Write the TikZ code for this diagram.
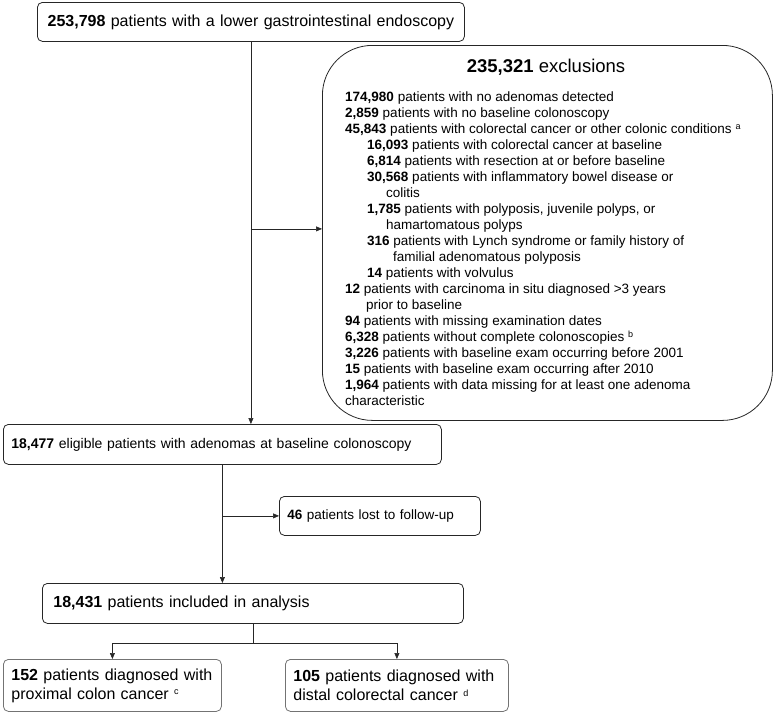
\documentclass[tikz,border=0pt]{standalone}
\usepackage{fontspec}
\setmainfont{Liberation Sans}
\usetikzlibrary{arrows.meta}

\newcommand{\fnmark}[1]{\raisebox{4.5pt}{\fontsize{9}{9}\selectfont #1}}

\tikzset{
	box/.style={draw=black!85, line width=0.8pt, rounded corners=5pt, anchor=north west,
		inner xsep=8pt, inner ysep=0pt, align=left, font=\fontsize{15.5}{19}\selectfont},
	outbox/.style={box, draw=black!55, font=\fontsize{16}{19}\selectfont},
	link/.style={draw=black!85, line width=0.6pt},
	arr/.style={link, -{Triangle[length=6pt,width=5pt]}}
}

\begin{document}
\begin{tikzpicture}[x=1pt,y=-1pt]
	\useasboundingbox (0,0) rectangle (773,712);

	\node[box, font=\fontsize{16}{19}\selectfont, align=center, text width=411pt, minimum height=39pt] (start) at (37,2)
		{\textbf{253,798} patients with a lower gastrointestinal endoscopy};
	\node[box, rounded corners=50pt, minimum width=450pt, minimum height=375pt] (excl) at (322,45) {};
	\node[font=\fontsize{18.5}{22}\selectfont] (excltitle) at (546,67) {\textbf{235,321} exclusions};
	\node[anchor=north west, inner sep=0pt, align=left, font=\fontsize{13.5}{16}\selectfont] (excllist) at (345,92)
		{\textbf{174,980} patients with no adenomas detected\\
		\textbf{2,859} patients with no baseline colonoscopy\\
		\textbf{45,843} patients with colorectal cancer or other colonic conditions\hspace{4pt}\fnmark{a}\\
		\hspace*{22pt}\textbf{16,093} patients with colorectal cancer at baseline\\
		\hspace*{22pt}\textbf{6,814} patients with resection at or before baseline\\
		\hspace*{22pt}\textbf{30,568} patients with inflammatory bowel disease or\\
		\hspace*{41pt}colitis\\
		\hspace*{22pt}\textbf{1,785} patients with polyposis, juvenile polyps, or\\
		\hspace*{41pt}hamartomatous polyps\\
		\hspace*{22pt}\textbf{316} patients with Lynch syndrome or family history of\\
		\hspace*{48pt}familial adenomatous polyposis\\
		\hspace*{22pt}\textbf{14} patients with volvulus\\
		\textbf{12} patients with carcinoma in situ diagnosed >3 years\\
		\hspace*{21pt}prior to baseline\\
		\textbf{94} patients with missing examination dates\\
		\textbf{6,328} patients without complete colonoscopies \fnmark{b}\\
		\textbf{3,226} patients with baseline exam occurring before 2001\\
		\textbf{15} patients with baseline exam occurring after 2010\\
		\textbf{1,964} patients with data missing for at least one adenoma\\
		characteristic};

	\node[box, font=\fontsize{14}{18}\selectfont, text width=422pt, minimum height=40pt] (elig) at (3,424)
		{\textbf{18,477} eligible patients with adenomas at baseline colonoscopy};
	\node[box, font=\fontsize{13.5}{18}\selectfont, text width=185pt, minimum height=39pt] (lost) at (279,496)
		{\textbf{46} patients lost to follow-up};
	\node[box, font=\fontsize{16}{19}\selectfont, inner xsep=11pt, text width=399pt, minimum height=40pt] (incl) at (42,583)
		{\textbf{18,431} patients included in analysis};
	\node[outbox, text width=202pt, minimum height=52pt] (prox) at (3,659)
		{\textbf{152} patients diagnosed with\\proximal colon cancer \fnmark{c}};
	\node[outbox, text width=207pt, minimum height=52pt] (dist) at (285,659)
		{\textbf{105} patients diagnosed with\\distal colorectal cancer \fnmark{d}};

	% flow
	\draw[arr] (start.south) -- (start.south |- elig.north);
	\path (excl.west) ++(0,-4) coordinate (exclin);
	\draw[arr] (start.south |- exclin) -- (exclin);
	\draw[arr] (elig.south) -- (elig.south |- incl.north);
	\draw[arr] (elig.south |- lost.west) -- (lost.west);
	\path (incl.south) ++(0,19) coordinate (split);
	\draw[link] (incl.south) -- (split);
	\draw[arr] (split) -| (prox.north);
	\draw[arr] (split) -| (dist.north);
\end{tikzpicture}
\end{document}
